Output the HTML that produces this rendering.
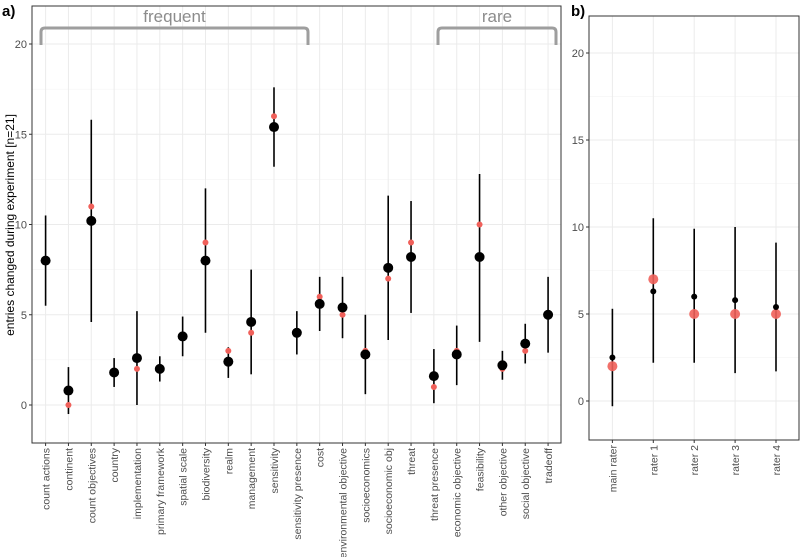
<!DOCTYPE html>
<html><head><meta charset="utf-8"><style>
body{margin:0;background:#fff;}
svg{display:block;font-family:"Liberation Sans",sans-serif;}
</style></head><body>
<svg id="c" width="800" height="557" viewBox="0 0 800 557" xmlns="http://www.w3.org/2000/svg"></svg>
<script>
const categoriesA=["count actions","continent","count objectives","country","implementation","primary framework","spatial scale","biodiversity","realm","management","sensitivity","sensitivity presence","cost","environmental objective","socioeconomics","socioeconomic obj","threat","threat presence","economic objective","feasibility","other objective","social objective","tradeoff"];
const meanA=[8,0.8,10.2,1.8,2.6,2.0,3.8,8,2.4,4.6,15.4,4,5.6,5.4,2.8,7.6,8.2,1.6,2.8,8.2,2.2,3.4,5];
const redA=[8,0,11,1.9,2,2,3.9,9,3,4,16,4,6,5,3,7,9,1,3,10,2,3,5];
const lowA=[5.5,-0.5,4.6,1.0,0,1.3,2.7,4,1.5,1.7,13.2,2.8,4.1,3.7,0.6,3.6,5.1,0.1,1.1,3.5,1.4,2.3,2.9];
const highA=[10.5,2.1,15.8,2.6,5.2,2.7,4.9,12,3.2,7.5,17.6,5.2,7.1,7.1,5,11.6,11.3,3.1,4.4,12.8,3.0,4.5,7.1];
const categoriesB=["main rater","rater 1","rater 2","rater 3","rater 4"];
const meanB=[2.5,6.3,6.0,5.8,5.4];
const redB=[2,7,5,5,5];
const lowB=[-0.3,2.2,2.2,1.6,1.7];
const highB=[5.3,10.5,9.9,10,9.1];
const yTicks=[0,5,10,15,20];

const NS="http://www.w3.org/2000/svg";
const svg=document.getElementById('c');
function mk(tag,attrs,parent){const e=document.createElementNS(NS,tag);for(const k in attrs)e.setAttribute(k,attrs[k]);(parent||svg).appendChild(e);return e;}

function panel(cfg){
  const {x0,x1,y0,y1,zeroY,pxPer,first,step,cats,mean,red,low,high,big,name}=cfg;
  const ys=v=>zeroY-v*pxPer;
  const xs=i=>first+i*step;
  const g=mk('g',{});
  
  
  for(let v=-2.5;v<=22.5;v+=5){const y=ys(v);if(y>y0&&y<y1){const l=mk('line',{x1:x0,x2:x1,y1:y,y2:y,stroke:'#f2f2f2','stroke-width':0.6},g);}}
  yTicks.forEach(v=>{const y=ys(v);
    const l=mk('line',{x1:x0,x2:x1,y1:y,y2:y,stroke:'#ebebeb','stroke-width':1},g);
    
    const tk=mk('line',{x1:x0-3,x2:x0,y1:y,y2:y,stroke:'#333','stroke-width':1},g);
    
    const t=mk('text',{x:x0-5,y:y+4,'text-anchor':'end','font-size':11,fill:'#4d4d4d'},g);t.textContent=v;
    
  });
  cats.forEach((c,i)=>{const x=xs(i);
    const l=mk('line',{x1:x,x2:x,y1:y0,y2:y1,stroke:'#ebebeb','stroke-width':1},g);
    
    const tk=mk('line',{x1:x,x2:x,y1:y1,y2:y1+3,stroke:'#333','stroke-width':1},g);
    
    const t=mk('text',{transform:`translate(${x+4},${y1+5}) rotate(-90)`,'text-anchor':'end','font-size':10.5,fill:'#4d4d4d'},g);t.textContent=c;
    
  });
  cats.forEach((c,i)=>{const x=xs(i);
    const e=mk('line',{x1:x,x2:x,y1:ys(low[i]),y2:ys(high[i]),stroke:'#000','stroke-width':1.6},g);
    
    if(big){
      const r=mk('circle',{cx:x,cy:ys(red[i]),r:3,fill:'#f0605a'},g);
      
      const m=mk('circle',{cx:x,cy:ys(mean[i]),r:5,fill:'#000'},g);
      
    } else {
      const r=mk('circle',{cx:x,cy:ys(red[i]),r:5,fill:'#f0605a','fill-opacity':0.9},g);
      
      const m=mk('circle',{cx:x,cy:ys(mean[i]),r:3,fill:'#000'},g);
      
    }
  });
  const b=mk('rect',{x:x0,y:y0,width:x1-x0,height:y1-y0,fill:'none',stroke:'#333','stroke-width':1},g);
  
}
panel({x0:32,x1:561,y0:6,y1:443,zeroY:405,pxPer:18.05,first:45.6,step:22.84,cats:categoriesA,mean:meanA,red:redA,low:lowA,high:highA,big:true,name:'panel-a'});
panel({x0:589,x1:799,y0:16,y1:440,zeroY:401,pxPer:17.4,first:612.4,step:40.9,cats:categoriesB,mean:meanB,red:redB,low:lowB,high:highB,big:false,name:'panel-b'});

function bracket(xa,xb,label,name){
  const p=mk('path',{d:`M${xa},45 L${xa},32 Q${xa},28 ${xa+4},28 L${xb-4},28 Q${xb},28 ${xb},32 L${xb},45`,fill:'none',stroke:'#9e9e9e','stroke-width':3});
  
  const t=mk('text',{x:(xa+xb)/2,y:22,'text-anchor':'middle','font-size':17,fill:'#8c8c8c'});t.textContent=label;
  
}
bracket(41,308,'frequent','frequent');
bracket(438,556,'rare','rare');

const yt=mk('text',{transform:'translate(14,225) rotate(-90)','text-anchor':'middle','font-size':12,fill:'#000'});
yt.textContent='entries changed during experiment [n=21]';

const la=mk('text',{x:2,y:16,'font-size':15,'font-weight':'bold',fill:'#000'});la.textContent='a)';

const lb=mk('text',{x:571,y:16,'font-size':15,'font-weight':'bold',fill:'#000'});lb.textContent='b)';

</script>
</body></html>
